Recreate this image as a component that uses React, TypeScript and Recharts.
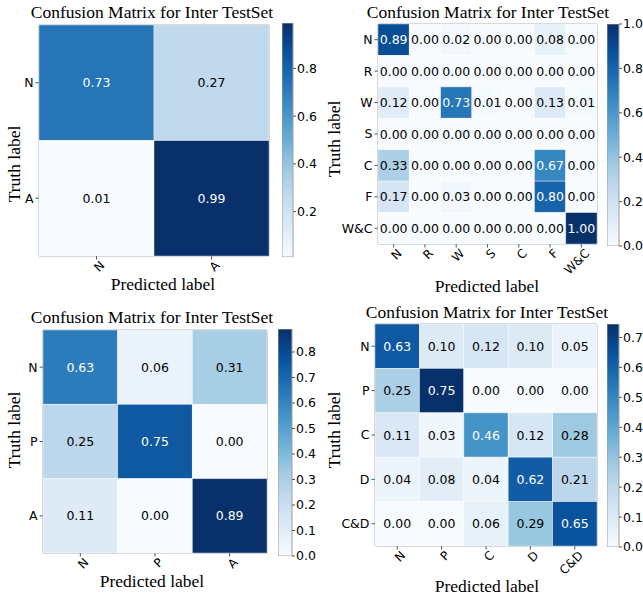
import { ScatterChart, Scatter, BarChart, Bar, XAxis, YAxis, ReferenceArea } from "recharts";

// matplotlib "Blues"
const BLUES = ["#f7fbff", "#deebf7", "#c6dbef", "#9ecae1", "#6baed6", "#4292c6", "#2171b5", "#08519c", "#08306b"];

const binaryLabels = ["N", "A"];
const binaryValues = [
  [0.73, 0.27],
  [0.01, 0.99],
];
const binaryTicks = [0.2, 0.4, 0.6, 0.8];

const sevenLabels = ["N", "R", "W", "S", "C", "F", "W&C"];
const sevenValues = [
  [0.89, 0.0, 0.02, 0.0, 0.0, 0.08, 0.0],
  [0.0, 0.0, 0.0, 0.0, 0.0, 0.0, 0.0],
  [0.12, 0.0, 0.73, 0.01, 0.0, 0.13, 0.01],
  [0.0, 0.0, 0.0, 0.0, 0.0, 0.0, 0.0],
  [0.33, 0.0, 0.0, 0.0, 0.0, 0.67, 0.0],
  [0.17, 0.0, 0.03, 0.0, 0.0, 0.8, 0.0],
  [0.0, 0.0, 0.0, 0.0, 0.0, 0.0, 1.0],
];
const sevenTicks = [0.0, 0.2, 0.4, 0.6, 0.8, 1.0];

const threeLabels = ["N", "P", "A"];
const threeValues = [
  [0.63, 0.06, 0.31],
  [0.25, 0.75, 0.0],
  [0.11, 0.0, 0.89],
];
const threeTicks = [0.0, 0.1, 0.2, 0.3, 0.4, 0.5, 0.6, 0.7, 0.8];

const fiveLabels = ["N", "P", "C", "D", "C&D"];
const fiveValues = [
  [0.63, 0.1, 0.12, 0.1, 0.05],
  [0.25, 0.75, 0.0, 0.0, 0.0],
  [0.11, 0.03, 0.46, 0.12, 0.28],
  [0.04, 0.08, 0.04, 0.62, 0.21],
  [0.0, 0.0, 0.06, 0.29, 0.65],
];
const fiveTicks = [0.0, 0.1, 0.2, 0.3, 0.4, 0.5, 0.6, 0.7];

const TITLE = "Confusion Matrix for Inter TestSet";
const SERIF = "'Liberation Serif', 'Times New Roman', serif";
const SANS = "'DejaVu Sans', sans-serif";
const EDGE = "#a0a0a0";

function hex(c: string) {
  return [1, 3, 5].map((i) => parseInt(c.slice(i, i + 2), 16));
}

function blues(t: number) {
  const s = Math.max(0, Math.min(1, t)) * (BLUES.length - 1);
  const i = Math.min(Math.floor(s), BLUES.length - 2);
  const f = s - i;
  const a = hex(BLUES[i]);
  const b = hex(BLUES[i + 1]);
  const rgb = a.map((v, k) => Math.round(v + (b[k] - v) * f));
  return `rgb(${rgb.join(",")})`;
}

function Text({ x, y, size, rotate, children }: any) {
  return (
    <div
      style={{
        position: "absolute",
        left: x,
        top: y,
        transform: `translate(-50%, -50%)${rotate ? ` rotate(${rotate}deg)` : ""}`,
        fontFamily: SERIF,
        fontSize: size,
        lineHeight: 1,
        whiteSpace: "nowrap",
        color: "#000",
      }}
    >
      {children}
    </div>
  );
}

const YW = 36;
const XH = 40;
const PAD = 10;

function Matrix({ id, labels, values, vmin, vmax, cbTicks, layout }: any) {
  const n = labels.length;
  const { plot, cb } = layout;
  const cells = values.flatMap((row: number[], r: number) => row.map((v, c) => ({ x: c, y: r, v })));
  const thresh = Math.max(...values.flat()) / 2;
  const idx = labels.map((_: string, i: number) => i);
  const cw = plot.w / n;
  const ch = plot.h / n;
  const cbData = [{ name: "cb", range: [vmin, vmax] }];

  const RotTick = ({ x, y, payload }: any) => (
    <text
      x={x}
      y={y}
      transform={`rotate(-45 ${x} ${y})`}
      textAnchor="end"
      dy="0.8em"
      dx="0.25em"
      fontSize={12}
      fontFamily={SANS}
      fill="#000"
    >
      {labels[payload.value]}
    </text>
  );

  return (
    <>
      <div style={{ position: "absolute", left: plot.x - YW, top: plot.y - PAD }}>
        <ScatterChart
          width={YW + plot.w + PAD}
          height={PAD + plot.h + XH}
          margin={{ top: PAD, right: PAD, bottom: 0, left: 0 }}
        >
          <XAxis
            type="number"
            dataKey="x"
            domain={[-0.5, n - 0.5]}
            ticks={idx}
            interval={0}
            height={XH}
            axisLine={false}
            tickLine={{ stroke: "#555" }}
            tickSize={3.5}
            tickMargin={2}
            tick={<RotTick />}
          />
          <YAxis
            type="number"
            dataKey="y"
            domain={[-0.5, n - 0.5]}
            reversed
            ticks={idx}
            interval={0}
            width={YW}
            axisLine={false}
            tickLine={{ stroke: "#555" }}
            tickSize={3.5}
            tickMargin={2}
            tickFormatter={(i: number) => labels[i]}
            tick={{ fontSize: 12.5, fontFamily: SANS, fill: "#000" }}
          />
          <Scatter
            data={cells}
            isAnimationActive={false}
            shape={(p: any) => (
              <g>
                <rect
                  x={p.cx - cw / 2}
                  y={p.cy - ch / 2}
                  width={cw}
                  height={ch}
                  fill={blues((p.payload.v - vmin) / (vmax - vmin))}
                  stroke="#ffffff"
                  strokeOpacity={0.5}
                  strokeWidth={0.8}
                />
                <text
                  x={p.cx}
                  y={p.cy}
                  dy="0.36em"
                  textAnchor="middle"
                  fontSize={12.5}
                  fontFamily={SANS}
                  fill={p.payload.v > thresh ? "#ffffff" : "#000000"}
                >
                  {p.payload.v.toFixed(2)}
                </text>
              </g>
            )}
          />
          <ReferenceArea
            x1={-0.5}
            x2={n - 0.5}
            y1={-0.5}
            y2={n - 0.5}
            fill="none"
            stroke={EDGE}
            strokeWidth={1}
          />
        </ScatterChart>
      </div>

      <div style={{ position: "absolute", left: cb.x, top: cb.y - PAD }}>
        <BarChart
          width={cb.w + 36}
          height={cb.h + 2 * PAD}
          data={cbData}
          margin={{ top: PAD, right: 0, bottom: PAD, left: 0 }}
          barCategoryGap={0}
        >
          <defs>
            <linearGradient id={`cb-${id}`} x1="0" y1="1" x2="0" y2="0">
              {BLUES.map((c, i) => (
                <stop key={i} offset={`${(i / (BLUES.length - 1)) * 100}%`} stopColor={c} />
              ))}
            </linearGradient>
          </defs>
          <XAxis dataKey="name" hide />
          <YAxis
            type="number"
            orientation="right"
            domain={[vmin, vmax]}
            allowDataOverflow
            ticks={cbTicks}
            interval={0}
            width={36}
            axisLine={false}
            tickLine={{ stroke: "#555" }}
            tickSize={3}
            tickMargin={1}
            tickFormatter={(v: number) => v.toFixed(1)}
            tick={{ fontSize: 12.5, fontFamily: SANS, fill: "#000" }}
          />
          <Bar
            dataKey="range"
            fill={`url(#cb-${id})`}
            stroke={EDGE}
            strokeWidth={1}
            isAnimationActive={false}
          />
        </BarChart>
      </div>

      <Text x={layout.title[0]} y={layout.title[1]} size={17.5}>
        {TITLE}
      </Text>
      <Text x={layout.xlabel[0]} y={layout.xlabel[1]} size={17.5}>
        Predicted label
      </Text>
      <Text x={layout.ylabel[0]} y={layout.ylabel[1]} size={17.5} rotate={-90}>
        Truth label
      </Text>
    </>
  );
}

const layouts = {
  a: { plot: { x: 39, y: 25, w: 230, h: 231 }, cb: { x: 282, y: 23, w: 11, h: 234 }, title: [152, 13], xlabel: [163, 285], ylabel: [15, 164] },
  b: { plot: { x: 378, y: 24, w: 219, h: 220 }, cb: { x: 607, y: 24, w: 12, h: 222 }, title: [488, 13], xlabel: [487, 287], ylabel: [335, 139] },
  c: { plot: { x: 43, y: 330, w: 224, h: 223 }, cb: { x: 278, y: 329, w: 14, h: 227 }, title: [152, 318], xlabel: [152, 582], ylabel: [15, 430] },
  d: { plot: { x: 375, y: 324, w: 222, h: 222 }, cb: { x: 607, y: 324, w: 12, h: 223 }, title: [487, 313], xlabel: [487, 587], ylabel: [335, 430] },
};

export default function App() {
  return (
    <div style={{ position: "absolute", left: 0, top: 0, width: 643, height: 598, background: "#fff", overflow: "hidden" }}>
      <Matrix id="a" labels={binaryLabels} values={binaryValues} vmin={0.01} vmax={0.99} cbTicks={binaryTicks} layout={layouts.a} />
      <Matrix id="b" labels={sevenLabels} values={sevenValues} vmin={0} vmax={1} cbTicks={sevenTicks} layout={layouts.b} />
      <Matrix id="c" labels={threeLabels} values={threeValues} vmin={0} vmax={0.89} cbTicks={threeTicks} layout={layouts.c} />
      <Matrix id="d" labels={fiveLabels} values={fiveValues} vmin={0} vmax={0.745} cbTicks={fiveTicks} layout={layouts.d} />
    </div>
  );
}
